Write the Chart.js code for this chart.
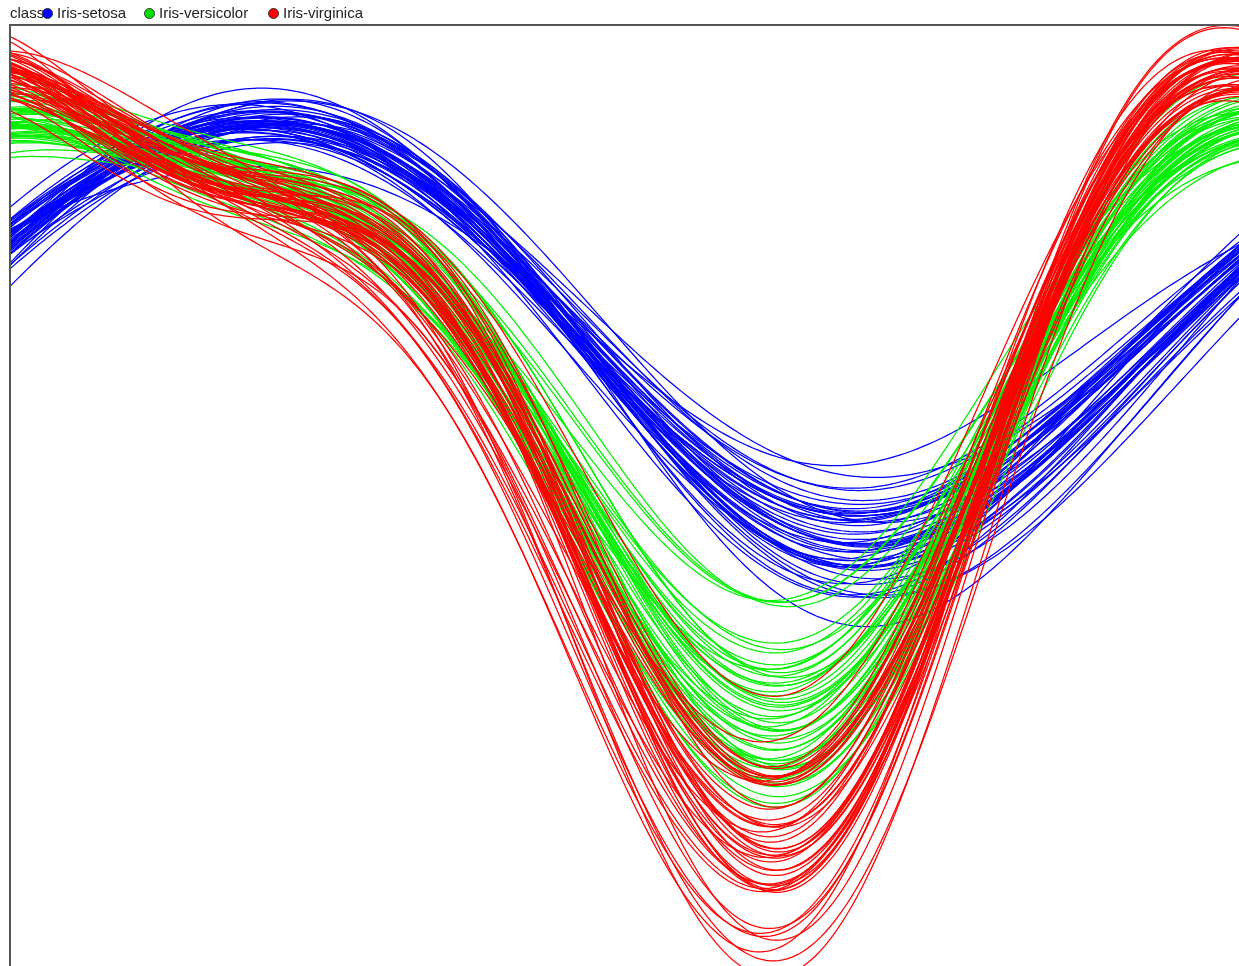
<!DOCTYPE html>
<html>
<head>
<meta charset="utf-8">
<script src="https://cdn.jsdelivr.net/npm/chart.js@4.4.0/dist/chart.umd.min.js"></script>
<style>
  html, body { margin: 0; padding: 0; background: #fff; overflow: hidden; }
  #wrap { position: relative; width: 1239px; height: 966px; overflow: hidden; }
  #andrews { position: absolute; left: 0; top: 0; }
  .legend { position: absolute; top: 4px; font: 15px "Liberation Sans", Arial, sans-serif; color: #222; white-space: nowrap; }
  .dot { position: absolute; top: 8px; width: 9px; height: 9px; border-radius: 50%; border: 1px solid #333; }
</style>
</head>
<body>
<div id="wrap">
  <canvas id="andrews" width="1270" height="985"></canvas>
  <div class="legend" style="left:10px">class</div>
  <div class="dot" style="left:42px;background:#0000ff"></div>
  <div class="legend" style="left:57px">Iris-setosa</div>
  <div class="dot" style="left:144px;background:#00e000"></div>
  <div class="legend" style="left:159px">Iris-versicolor</div>
  <div class="dot" style="left:268px;background:#ff0000"></div>
  <div class="legend" style="left:283px">Iris-virginica</div>
</div>
<script>
// Iris data: sepal length, sepal width, petal length, petal width
var setosa = [
  [5.1,3.5,1.4,0.2],[4.9,3.0,1.4,0.2],[4.7,3.2,1.3,0.2],[4.6,3.1,1.5,0.2],[5.0,3.6,1.4,0.2],
  [5.4,3.9,1.7,0.4],[4.6,3.4,1.4,0.3],[5.0,3.4,1.5,0.2],[4.4,2.9,1.4,0.2],[4.9,3.1,1.5,0.1],
  [5.4,3.7,1.5,0.2],[4.8,3.4,1.6,0.2],[4.8,3.0,1.4,0.1],[4.3,3.0,1.1,0.1],[5.8,4.0,1.2,0.2],
  [5.7,4.4,1.5,0.4],[5.4,3.9,1.3,0.4],[5.1,3.5,1.4,0.3],[5.7,3.8,1.7,0.3],[5.1,3.8,1.5,0.3],
  [5.4,3.4,1.7,0.2],[5.1,3.7,1.5,0.4],[4.6,3.6,1.0,0.2],[5.1,3.3,1.7,0.5],[4.8,3.4,1.9,0.2],
  [5.0,3.0,1.6,0.2],[5.0,3.4,1.6,0.4],[5.2,3.5,1.5,0.2],[5.2,3.4,1.4,0.2],[4.7,3.2,1.6,0.2],
  [4.8,3.1,1.6,0.2],[5.4,3.4,1.5,0.4],[5.2,4.1,1.5,0.1],[5.5,4.2,1.4,0.2],[4.9,3.1,1.5,0.1],
  [5.0,3.2,1.2,0.2],[5.5,3.5,1.3,0.2],[4.9,3.1,1.5,0.1],[4.4,3.0,1.3,0.2],[5.1,3.4,1.5,0.2],
  [5.0,3.5,1.3,0.3],[4.5,2.3,1.3,0.3],[4.4,3.2,1.3,0.2],[5.0,3.5,1.6,0.6],[5.1,3.8,1.9,0.4],
  [4.8,3.0,1.4,0.3],[5.1,3.8,1.6,0.2],[4.6,3.2,1.4,0.2],[5.3,3.7,1.5,0.2],[5.0,3.3,1.4,0.2]
];
var versicolor = [
  [7.0,3.2,4.7,1.4],[6.4,3.2,4.5,1.5],[6.9,3.1,4.9,1.5],[5.5,2.3,4.0,1.3],[6.5,2.8,4.6,1.5],
  [5.7,2.8,4.5,1.3],[6.3,3.3,4.7,1.6],[4.9,2.4,3.3,1.0],[6.6,2.9,4.6,1.3],[5.2,2.7,3.9,1.4],
  [5.0,2.0,3.5,1.0],[5.9,3.0,4.2,1.5],[6.0,2.2,4.0,1.0],[6.1,2.9,4.7,1.4],[5.6,2.9,3.6,1.3],
  [6.7,3.1,4.4,1.4],[5.6,3.0,4.5,1.5],[5.8,2.7,4.1,1.0],[6.2,2.2,4.5,1.5],[5.6,2.5,3.9,1.1],
  [5.9,3.2,4.8,1.8],[6.1,2.8,4.0,1.3],[6.3,2.5,4.9,1.5],[6.1,2.8,4.7,1.2],[6.4,2.9,4.3,1.3],
  [6.6,3.0,4.4,1.4],[6.8,2.8,4.8,1.4],[6.7,3.0,5.0,1.7],[6.0,2.9,4.5,1.5],[5.7,2.6,3.5,1.0],
  [5.5,2.4,3.8,1.1],[5.5,2.4,3.7,1.0],[5.8,2.7,3.9,1.2],[6.0,2.7,5.1,1.6],[5.4,3.0,4.5,1.5],
  [6.0,3.4,4.5,1.6],[6.7,3.1,4.7,1.5],[6.3,2.3,4.4,1.3],[5.6,3.0,4.1,1.3],[5.5,2.5,4.0,1.3],
  [5.5,2.6,4.4,1.2],[6.1,3.0,4.6,1.4],[5.8,2.6,4.0,1.2],[5.0,2.3,3.3,1.0],[5.6,2.7,4.2,1.3],
  [5.7,3.0,4.2,1.2],[5.7,2.9,4.2,1.3],[6.2,2.9,4.3,1.3],[5.1,2.5,3.0,1.1],[5.7,2.8,4.1,1.3]
];
var virginica = [
  [6.3,3.3,6.0,2.5],[5.8,2.7,5.1,1.9],[7.1,3.0,5.9,2.1],[6.3,2.9,5.6,1.8],[6.5,3.0,5.8,2.2],
  [7.6,3.0,6.6,2.1],[4.9,2.5,4.5,1.7],[7.3,2.9,6.3,1.8],[6.7,2.5,5.8,1.8],[7.2,3.6,6.1,2.5],
  [6.5,3.2,5.1,2.0],[6.4,2.7,5.3,1.9],[6.8,3.0,5.5,2.1],[5.7,2.5,5.0,2.0],[5.8,2.8,5.1,2.4],
  [6.4,3.2,5.3,2.3],[6.5,3.0,5.5,1.8],[7.7,3.8,6.7,2.2],[7.7,2.6,6.9,2.3],[6.0,2.2,5.0,1.5],
  [6.9,3.2,5.7,2.3],[5.6,2.8,4.9,2.0],[7.7,2.8,6.7,2.0],[6.3,2.7,4.9,1.8],[6.7,3.3,5.7,2.1],
  [7.2,3.2,6.0,1.8],[6.2,2.8,4.8,1.8],[6.1,3.0,4.9,1.8],[6.4,2.8,5.6,2.1],[7.2,3.0,5.8,1.6],
  [7.4,2.8,6.1,1.9],[7.9,3.8,6.4,2.0],[6.4,2.8,5.6,2.2],[6.3,2.8,5.1,1.5],[6.1,2.6,5.6,1.4],
  [7.7,3.0,6.1,2.3],[6.3,3.4,5.6,2.4],[6.4,3.1,5.5,1.8],[6.0,3.0,4.8,1.8],[6.9,3.1,5.4,2.1],
  [6.7,3.1,5.6,2.4],[6.9,3.1,5.1,2.3],[5.8,2.7,5.1,1.9],[6.8,3.2,5.9,2.3],[6.7,3.3,5.7,2.5],
  [6.7,3.0,5.2,2.3],[6.3,2.5,5.0,1.9],[6.5,3.0,5.2,2.0],[6.2,3.4,5.4,2.3],[5.9,3.0,5.1,1.8]
];

var classNames = ["Iris-setosa", "Iris-versicolor", "Iris-virginica"];
var classColors = ["#0000ff", "#00f000", "#ff0000"];
var yRange = [-1.75, 15.25];

// Andrews curve for one row, t from -pi to pi
function andrews(row) {
  var pts = [];
  var steps = 300;
  for (var i = 0; i <= steps; i++) {
    var t = -Math.PI + 2 * Math.PI * i / steps;
    var v = row[0] / Math.SQRT2 + row[1] * Math.sin(t) + row[2] * Math.cos(t) + row[3] * Math.sin(2 * t);
    pts.push({x: t, y: v});
  }
  return pts;
}

var datasets = [];
[setosa, versicolor, virginica].forEach(function(rows, c) {
  rows.forEach(function(row) {
    datasets.push({
      label: classNames[c],
      data: andrews(row),
      borderColor: classColors[c],
      borderWidth: 1.25,
      pointRadius: 0,
      tension: 0,
      order: 2 - c
    });
  });
});

// frame on the left and top of the plot
var framePlugin = {
  id: 'frame',
  afterDraw: function(chart) {
    var ctx = chart.ctx, a = chart.chartArea;
    ctx.save();
    ctx.strokeStyle = '#555';
    ctx.lineWidth = 2;
    ctx.beginPath();
    ctx.moveTo(a.left, a.bottom + 10);
    ctx.lineTo(a.left, a.top);
    ctx.lineTo(a.right + 10, a.top);
    ctx.stroke();
    ctx.restore();
  }
};

var chart = new Chart(document.getElementById('andrews'), {
  type: 'line',
  data: { datasets: datasets },
  options: {
    responsive: false,
    animation: false,
    events: [],
    layout: { padding: { left: 10, top: 25, right: 0, bottom: 5 } },
    plugins: { legend: { display: false }, tooltip: { enabled: false } },
    scales: {
      x: { type: 'linear', min: -Math.PI, max: Math.PI, display: false },
      y: { min: yRange[0], max: yRange[1], reverse: true, display: false }
    }
  },
  plugins: [framePlugin]
});
</script>
</body>
</html>
